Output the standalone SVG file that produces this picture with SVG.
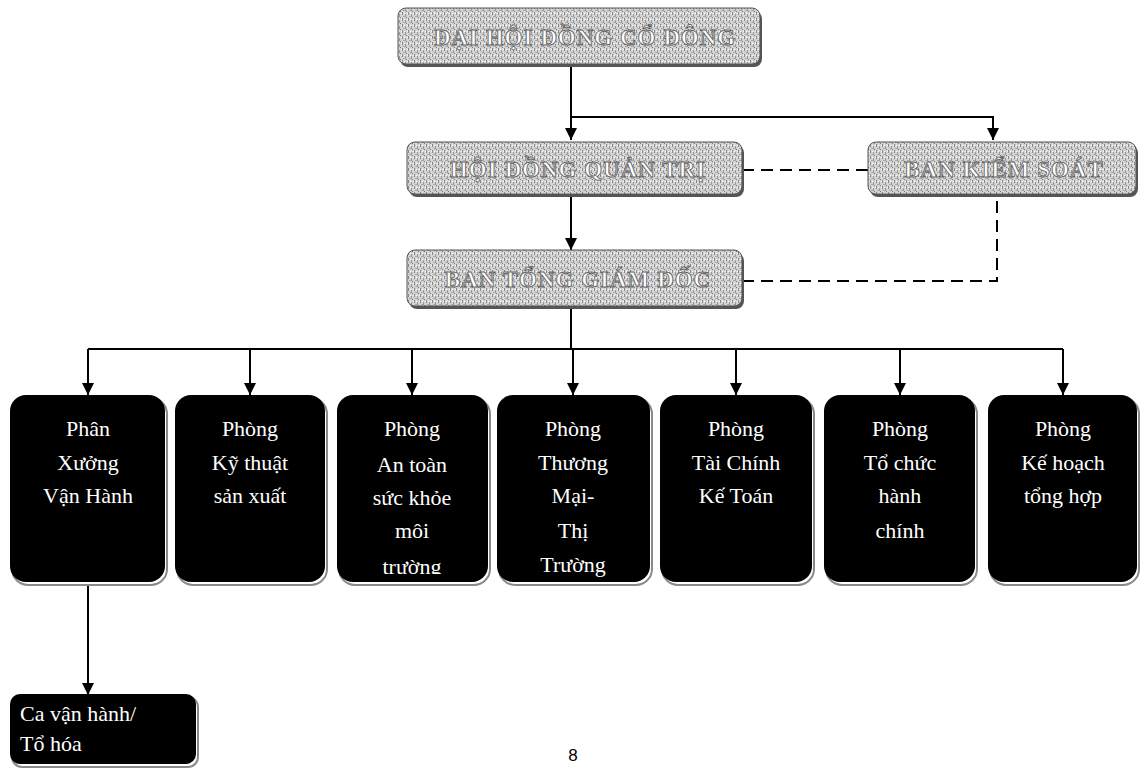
<svg xmlns="http://www.w3.org/2000/svg" width="1143" height="772" viewBox="0 0 1143 772">
<style>
.conn{fill:none;stroke:#000;stroke-width:2}
.dash{fill:none;stroke:#000;stroke-width:2;stroke-dasharray:12 7}
.dept{fill:#000}
.sh{fill:none;stroke:#8a8a8a;stroke-width:2}
.dt{font-family:"Liberation Serif","DejaVu Serif",serif;font-size:22px;fill:#fff;text-anchor:middle}
.top{fill:url(#noise);stroke:#555;stroke-width:1}
.tt{font-family:"Liberation Serif","DejaVu Serif",serif;font-size:23px;font-weight:bold;fill:#fff;stroke:#666;stroke-width:0.9;text-anchor:middle;letter-spacing:1px}
.pg{font-family:"Liberation Sans",Arial,sans-serif;font-size:17px;fill:#000;text-anchor:middle}
</style>
<defs>
<pattern id="noise" width="6" height="6" patternUnits="userSpaceOnUse">
<rect width="6" height="6" fill="#d4d4d4"/>
<rect x="0" y="0" width="1" height="3" fill="#888"/>
<rect x="3" y="2" width="1" height="3" fill="#999"/>
<rect x="1" y="4" width="2" height="1" fill="#aaa"/>
<rect x="4" y="5" width="1" height="1" fill="#777"/>
<rect x="5" y="1" width="1" height="1" fill="#fff"/>
<rect x="2" y="1" width="1" height="1" fill="#fff"/>
</pattern>
<marker id="ah" viewBox="0 0 14 14" refX="14" refY="7" markerWidth="12" markerHeight="14" markerUnits="userSpaceOnUse" orient="auto">
<path d="M0,0 L14,7 L0,14 z" fill="#000"/>
</marker>
<clipPath id="clip3"><rect x="337" y="395" width="151" height="179"/></clipPath>
<clipPath id="clip4"><rect x="497" y="395" width="153" height="182"/></clipPath>
</defs>

<g id="connectors">
<path class="conn" d="M571,64 V140" marker-end="url(#ah)"/>
<path class="conn" d="M571,117 H993 V140" marker-end="url(#ah)"/>
<path class="conn" d="M571,194 V250" marker-end="url(#ah)"/>
<path class="dash" d="M742,170 H868"/>
<path class="dash" d="M742,281 H997 V196"/>
<path class="conn" d="M571,306 V349"/>
<path class="conn" d="M88,349 H1063"/>
<path class="conn" d="M88,349 V395" marker-end="url(#ah)"/>
<path class="conn" d="M250,349 V395" marker-end="url(#ah)"/>
<path class="conn" d="M412,349 V395" marker-end="url(#ah)"/>
<path class="conn" d="M573,349 V395" marker-end="url(#ah)"/>
<path class="conn" d="M736,349 V395" marker-end="url(#ah)"/>
<path class="conn" d="M900,349 V395" marker-end="url(#ah)"/>
<path class="conn" d="M1063,349 V395" marker-end="url(#ah)"/>
<path class="conn" d="M88,584 V695" marker-end="url(#ah)"/>
</g>

<g id="dhdcd">
<rect x="400" y="11" width="362" height="56" rx="8" fill="#555"/>
<rect class="top" x="398" y="8" width="362" height="56" rx="8"/>
<text class="tt" x="585" y="45">ĐẠI HỘI ĐỒNG CỔ ĐÔNG</text>
</g>
<g id="hdqt">
<rect x="409" y="145" width="335" height="52" rx="8" fill="#555"/>
<rect class="top" x="407" y="142" width="335" height="52" rx="8"/>
<text class="tt" x="578" y="177">HỘI ĐỒNG QUẢN TRỊ</text>
</g>
<g id="bks">
<rect x="870" y="145" width="268" height="52" rx="8" fill="#555"/>
<rect class="top" x="868" y="142" width="268" height="52" rx="8"/>
<text class="tt" x="1004" y="177">BAN KIỂM SOÁT</text>
</g>
<g id="tgd">
<rect x="409" y="253" width="335" height="56" rx="8" fill="#555"/>
<rect class="top" x="407" y="250" width="335" height="56" rx="8"/>
<text class="tt" x="578" y="287">BAN TỔNG GIÁM ĐỐC</text>
</g>

<g id="pxvh">
<rect class="sh" x="12" y="398" width="155" height="187" rx="16"/>
<rect class="dept" x="10" y="395" width="155" height="187" rx="16"/>
<text class="dt" x="88" y="436">Phân</text>
<text class="dt" x="88" y="470">Xưởng</text>
<text class="dt" x="88" y="503">Vận Hành</text>
</g>
<g id="ktsx">
<rect class="sh" x="177" y="398" width="150" height="187" rx="16"/>
<rect class="dept" x="175" y="395" width="150" height="187" rx="16"/>
<text class="dt" x="250" y="436">Phòng</text>
<text class="dt" x="250" y="470">Kỹ thuật</text>
<text class="dt" x="250" y="503">sản xuất</text>
</g>
<g id="atsk">
<rect class="sh" x="339" y="398" width="151" height="187" rx="16"/>
<rect class="dept" x="337" y="395" width="151" height="187" rx="16"/>
<g clip-path="url(#clip3)">
<text class="dt" x="412" y="436">Phòng</text>
<text class="dt" x="412" y="472">An toàn</text>
<text class="dt" x="412" y="505">sức khỏe</text>
<text class="dt" x="412" y="538">môi</text>
<text class="dt" x="412" y="574">trường</text>
</g>
</g>
<g id="tmtt">
<rect class="sh" x="499" y="398" width="153" height="187" rx="16"/>
<rect class="dept" x="497" y="395" width="153" height="187" rx="16"/>
<g clip-path="url(#clip4)">
<text class="dt" x="573" y="436">Phòng</text>
<text class="dt" x="573" y="470">Thương</text>
<text class="dt" x="573" y="503">Mại-</text>
<text class="dt" x="573" y="538">Thị</text>
<text class="dt" x="573" y="572">Trường</text>
</g>
</g>
<g id="tckt">
<rect class="sh" x="662" y="398" width="152" height="187" rx="16"/>
<rect class="dept" x="660" y="395" width="152" height="187" rx="16"/>
<text class="dt" x="736" y="436">Phòng</text>
<text class="dt" x="736" y="470">Tài Chính</text>
<text class="dt" x="736" y="503">Kế Toán</text>
</g>
<g id="tchc">
<rect class="sh" x="826" y="398" width="151" height="187" rx="16"/>
<rect class="dept" x="824" y="395" width="151" height="187" rx="16"/>
<text class="dt" x="900" y="436">Phòng</text>
<text class="dt" x="900" y="470">Tổ chức</text>
<text class="dt" x="900" y="503">hành</text>
<text class="dt" x="900" y="538">chính</text>
</g>
<g id="khth">
<rect class="sh" x="990" y="398" width="149" height="187" rx="16"/>
<rect class="dept" x="988" y="395" width="149" height="187" rx="16"/>
<text class="dt" x="1063" y="436">Phòng</text>
<text class="dt" x="1063" y="470">Kế hoạch</text>
<text class="dt" x="1063" y="503">tổng hợp</text>
</g>
<g id="cavh">
<rect class="sh" x="12" y="697" width="186" height="70" rx="10"/>
<rect class="dept" x="10" y="694" width="186" height="70" rx="10"/>
<text class="dt" x="20" y="721" style="text-anchor:start">Ca vận hành/</text>
<text class="dt" x="20" y="751" style="text-anchor:start">Tổ hóa</text>
</g>
<text class="pg" x="573" y="761">8</text>
</svg>
